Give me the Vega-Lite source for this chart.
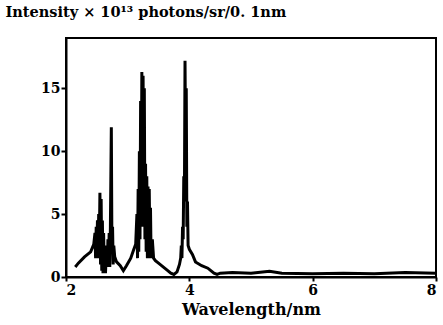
{
  "$schema": "https://vega.github.io/schema/vega-lite/v6.json",
  "width": 370,
  "height": 239,
  "autosize": "none",
  "padding": {"left": 66, "top": 38, "right": 7, "bottom": 48},
  "background": "white",
  "config": {
    "view": {"stroke": "black", "strokeWidth": 2},
    "font": "DejaVu Serif"
  },
  "data": {
    "values": [
      {"w": 2.15, "i": 0.8}, {"w": 2.2, "i": 1.1}, {"w": 2.3, "i": 1.6}, {"w": 2.4, "i": 2.0},
      {"w": 2.45, "i": 2.6}, {"w": 2.47, "i": 3.5}, {"w": 2.48, "i": 1.5}, {"w": 2.49, "i": 4.0},
      {"w": 2.5, "i": 2.0}, {"w": 2.51, "i": 4.5}, {"w": 2.52, "i": 1.5}, {"w": 2.53, "i": 5.0},
      {"w": 2.54, "i": 2.5}, {"w": 2.55, "i": 6.7}, {"w": 2.56, "i": 1.0}, {"w": 2.57, "i": 6.2},
      {"w": 2.58, "i": 0.5}, {"w": 2.59, "i": 4.5}, {"w": 2.6, "i": 0.3}, {"w": 2.61, "i": 3.5},
      {"w": 2.62, "i": 0.5}, {"w": 2.63, "i": 2.0}, {"w": 2.64, "i": 0.3}, {"w": 2.66, "i": 2.5},
      {"w": 2.67, "i": 0.8}, {"w": 2.68, "i": 3.0}, {"w": 2.69, "i": 1.0}, {"w": 2.7, "i": 3.5},
      {"w": 2.71, "i": 0.8}, {"w": 2.72, "i": 4.0}, {"w": 2.735, "i": 11.9}, {"w": 2.745, "i": 2.0},
      {"w": 2.755, "i": 4.0}, {"w": 2.765, "i": 1.0}, {"w": 2.775, "i": 2.5}, {"w": 2.79, "i": 1.6},
      {"w": 2.82, "i": 1.2}, {"w": 2.88, "i": 0.9}, {"w": 2.93, "i": 0.5}, {"w": 2.98, "i": 0.9},
      {"w": 3.05, "i": 1.5}, {"w": 3.1, "i": 2.2}, {"w": 3.13, "i": 2.6}, {"w": 3.15, "i": 5.0},
      {"w": 3.16, "i": 1.5}, {"w": 3.17, "i": 7.0}, {"w": 3.18, "i": 2.0}, {"w": 3.19, "i": 10.0},
      {"w": 3.2, "i": 3.0}, {"w": 3.21, "i": 14.0}, {"w": 3.22, "i": 5.0}, {"w": 3.23, "i": 16.3},
      {"w": 3.24, "i": 4.0}, {"w": 3.25, "i": 16.0}, {"w": 3.26, "i": 6.0}, {"w": 3.27, "i": 15.0},
      {"w": 3.28, "i": 3.0}, {"w": 3.29, "i": 9.0}, {"w": 3.3, "i": 2.0}, {"w": 3.31, "i": 8.0},
      {"w": 3.32, "i": 1.5}, {"w": 3.33, "i": 7.2}, {"w": 3.34, "i": 1.5}, {"w": 3.35, "i": 7.0},
      {"w": 3.36, "i": 2.0}, {"w": 3.37, "i": 5.5}, {"w": 3.38, "i": 1.5}, {"w": 3.4, "i": 3.0},
      {"w": 3.42, "i": 1.5}, {"w": 3.45, "i": 1.3}, {"w": 3.5, "i": 1.1}, {"w": 3.55, "i": 0.9},
      {"w": 3.6, "i": 0.7}, {"w": 3.65, "i": 0.5}, {"w": 3.7, "i": 0.3}, {"w": 3.75, "i": 0.2},
      {"w": 3.8, "i": 0.4}, {"w": 3.84, "i": 1.0}, {"w": 3.86, "i": 1.5}, {"w": 3.87, "i": 2.5},
      {"w": 3.88, "i": 1.5}, {"w": 3.89, "i": 4.0}, {"w": 3.9, "i": 3.0}, {"w": 3.91, "i": 8.0},
      {"w": 3.92, "i": 6.0}, {"w": 3.93, "i": 17.2}, {"w": 3.94, "i": 10.0}, {"w": 3.95, "i": 15.0},
      {"w": 3.96, "i": 4.0}, {"w": 3.97, "i": 6.0}, {"w": 3.98, "i": 2.5}, {"w": 4.0, "i": 2.2},
      {"w": 4.05, "i": 1.8}, {"w": 4.1, "i": 1.2}, {"w": 4.2, "i": 0.9}, {"w": 4.3, "i": 0.7},
      {"w": 4.4, "i": 0.3}, {"w": 4.45, "i": 0.2}, {"w": 4.5, "i": 0.3}, {"w": 4.7, "i": 0.35},
      {"w": 5.0, "i": 0.3}, {"w": 5.3, "i": 0.45}, {"w": 5.5, "i": 0.3}, {"w": 6.0, "i": 0.25},
      {"w": 6.5, "i": 0.3}, {"w": 7.0, "i": 0.25}, {"w": 7.5, "i": 0.35}, {"w": 8.0, "i": 0.3}
    ]
  },
  "mark": {"type": "line", "color": "black", "strokeWidth": 3, "clip": true},
  "encoding": {
    "x": {
      "field": "w", "type": "quantitative",
      "scale": {"domain": [2, 8], "nice": false, "zero": false},
      "axis": {
        "values": [2, 4, 6, 8], "grid": false, "domainColor": "black", "domainWidth": 2,
        "tickColor": "black", "tickSize": 4, "tickWidth": 2,
        "labelFont": "DejaVu Serif", "labelFontWeight": "bold", "labelFontSize": 14, "labelColor": "black",
        "labelPadding": 2,
        "title": "Wavelength/nm", "titleFont": "DejaVu Serif", "titleFontWeight": "bold",
        "titleFontSize": 16, "titleColor": "black", "titlePadding": 4
      }
    },
    "y": {
      "field": "i", "type": "quantitative",
      "scale": {"domain": [0, 19], "nice": false},
      "axis": {
        "values": [0, 5, 10, 15], "grid": false, "domainColor": "black", "domainWidth": 2,
        "tickColor": "black", "tickSize": 5, "tickWidth": 2,
        "labelFont": "DejaVu Serif", "labelFontWeight": "bold", "labelFontSize": 14, "labelColor": "black",
        "labelPadding": 1,
        "title": "Intensity × 10¹³ photons/sr/0. 1nm", "titleFont": "DejaVu Serif", "titleFontWeight": "bold",
        "titleFontSize": 14.5, "titleColor": "black", "titleAngle": 0, "titleAlign": "left",
        "titleBaseline": "alphabetic", "titleX": -61, "titleY": -22
      }
    }
  }
}
